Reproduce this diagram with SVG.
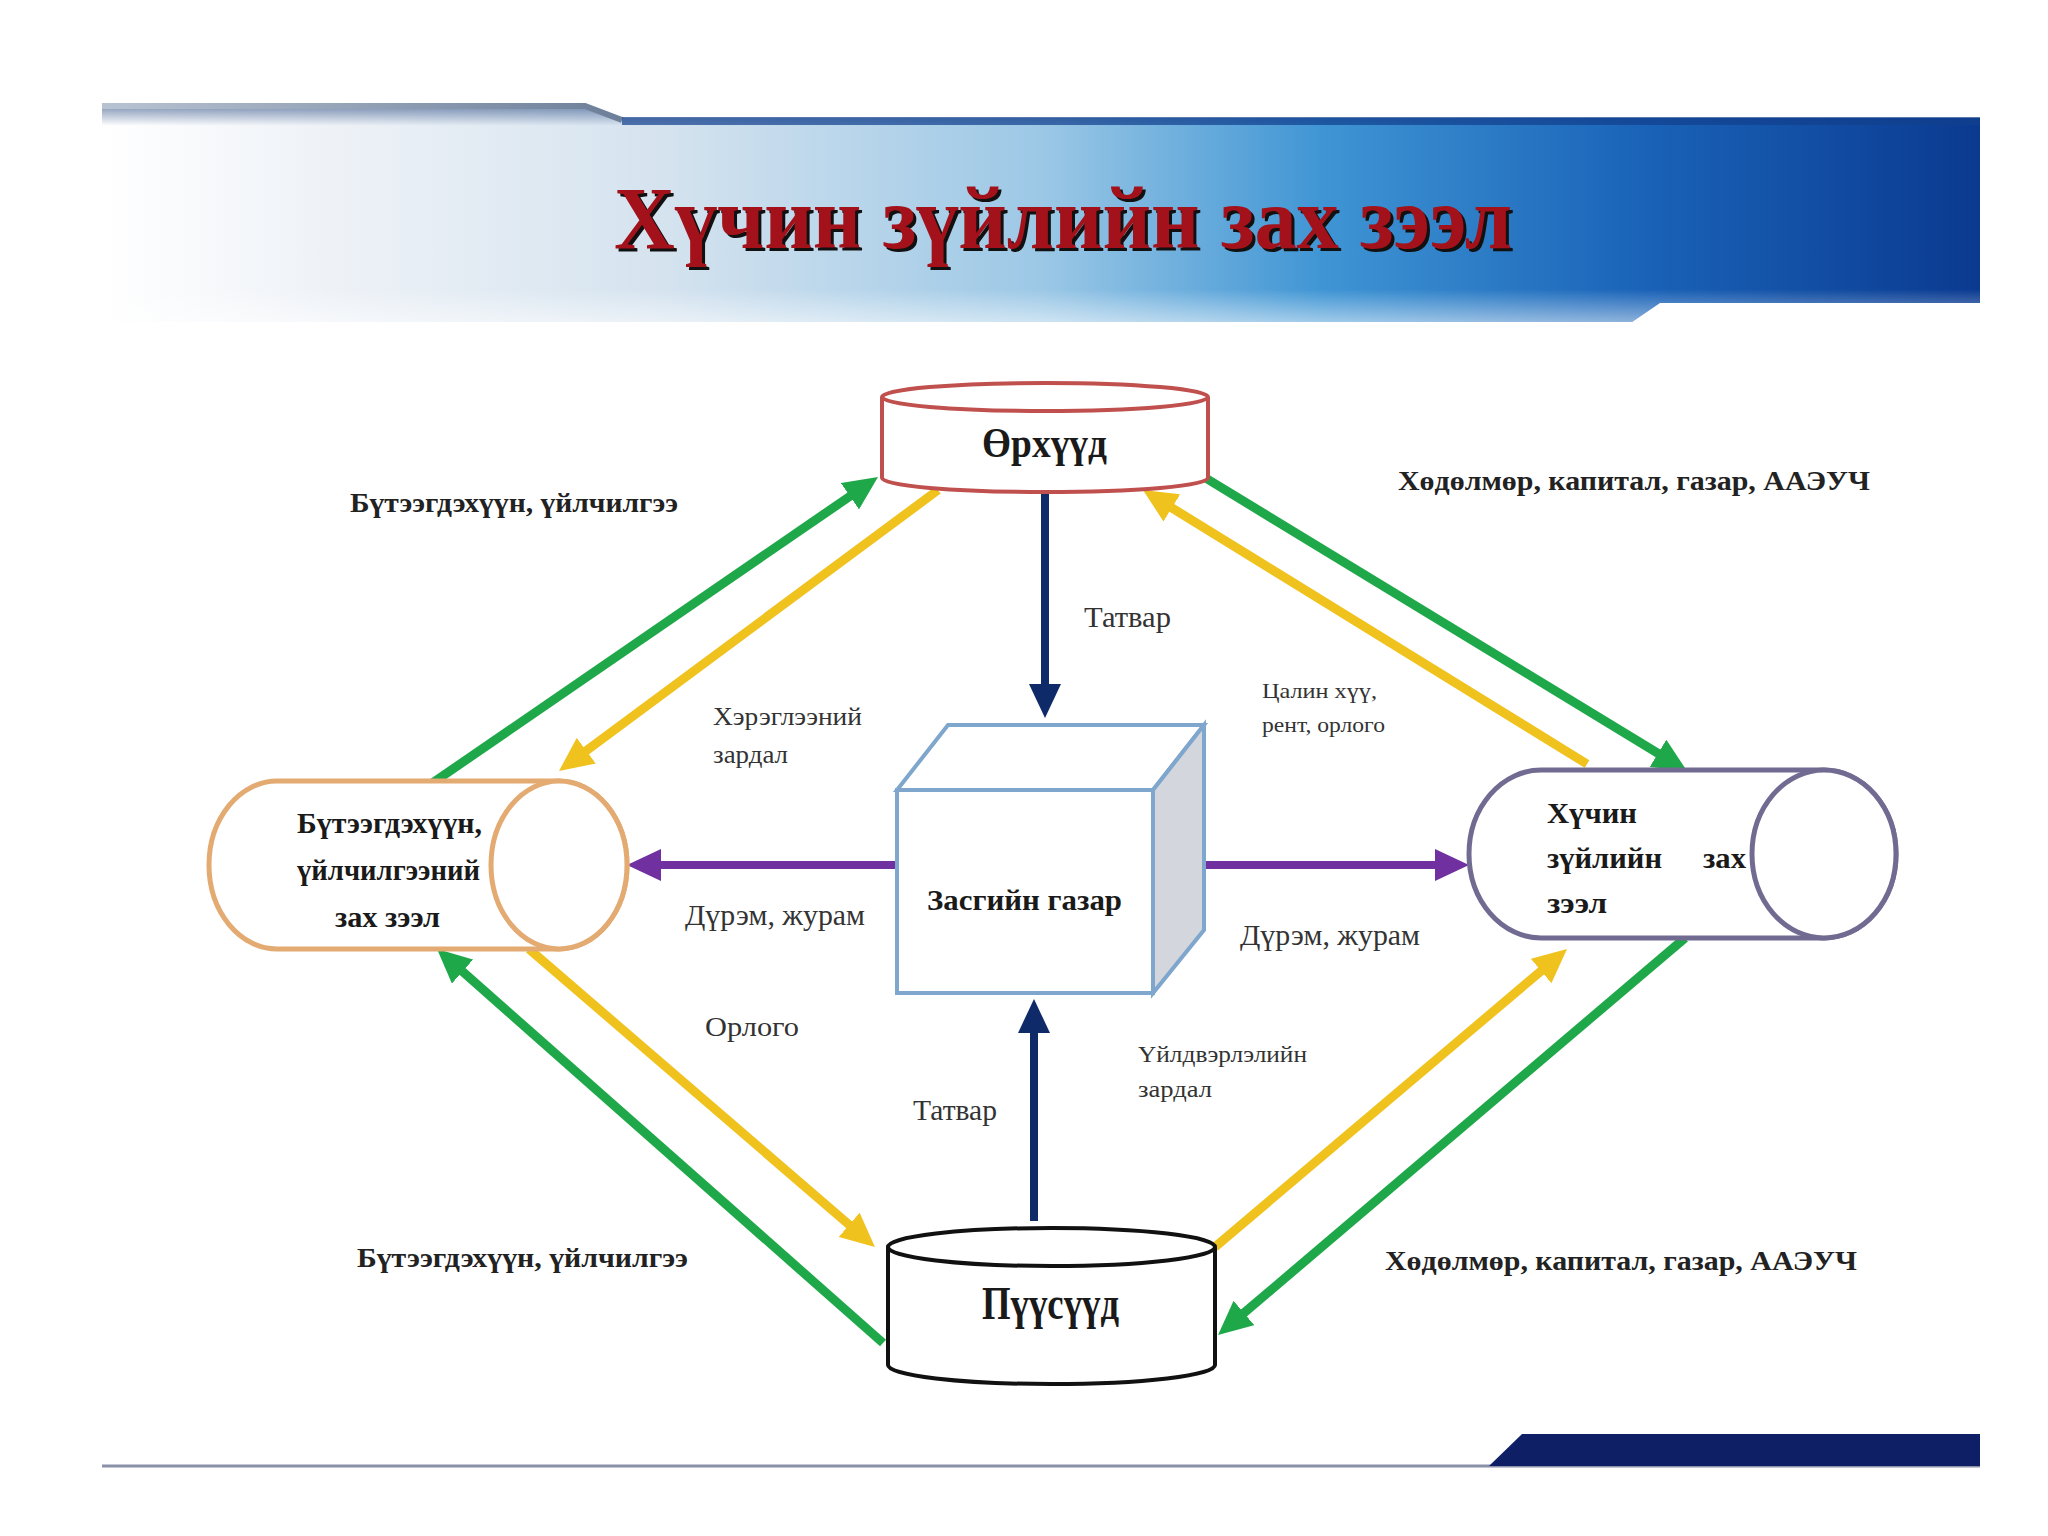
<svg xmlns="http://www.w3.org/2000/svg" width="2048" height="1536" viewBox="0 0 2048 1536">
<defs>
<linearGradient id="bannerG" x1="0" y1="0" x2="1" y2="0">
<stop offset="0" stop-color="#ffffff"/>
<stop offset="0.12" stop-color="#eef2f7"/>
<stop offset="0.3" stop-color="#d5e3ef"/>
<stop offset="0.5" stop-color="#9cc8e6"/>
<stop offset="0.65" stop-color="#3f95d4"/>
<stop offset="0.82" stop-color="#1a63b8"/>
<stop offset="1" stop-color="#0a3a90"/>
</linearGradient>
<linearGradient id="bannerV" x1="0" y1="0" x2="0" y2="1">
<stop offset="0" stop-color="#0a2f6e" stop-opacity="0.55"/>
<stop offset="0.1" stop-color="#0a2f6e" stop-opacity="0"/>
<stop offset="0.85" stop-color="#ffffff" stop-opacity="0"/>
<stop offset="1" stop-color="#ffffff" stop-opacity="0.5"/>
</linearGradient>
<linearGradient id="topLineG" x1="0" y1="0" x2="1" y2="0">
<stop offset="0" stop-color="#b8c3d2"/>
<stop offset="1" stop-color="#6d7f99"/>
</linearGradient>
<marker id="mGreen" markerUnits="userSpaceOnUse" markerWidth="34" markerHeight="32" viewBox="0 0 34 32" refX="2" refY="16" orient="auto"><path d="M0,0 L34,16 L0,32 Z" fill="#1fa84a"/></marker>
<marker id="mYellow" markerUnits="userSpaceOnUse" markerWidth="34" markerHeight="32" viewBox="0 0 34 32" refX="2" refY="16" orient="auto"><path d="M0,0 L34,16 L0,32 Z" fill="#f0c21e"/></marker>
<marker id="mNavy" markerUnits="userSpaceOnUse" markerWidth="34" markerHeight="32" viewBox="0 0 34 32" refX="2" refY="16" orient="auto"><path d="M0,0 L34,16 L0,32 Z" fill="#0f2a68"/></marker>
<marker id="mPurple" markerUnits="userSpaceOnUse" markerWidth="34" markerHeight="32" viewBox="0 0 34 32" refX="2" refY="16" orient="auto"><path d="M0,0 L34,16 L0,32 Z" fill="#7030a0"/></marker>
</defs>
<style>
.green{stroke:#1fa84a;stroke-width:9;fill:none;marker-end:url(#mGreen)}
.yellow{stroke:#f0c21e;stroke-width:9;fill:none;marker-end:url(#mYellow)}
.navy{stroke:#0f2a68;stroke-width:8;fill:none;marker-end:url(#mNavy)}
.purple{stroke:#7030a0;stroke-width:8;fill:none;marker-end:url(#mPurple)}
.lbl{font-family:"Liberation Serif","Noto Serif",serif;fill:#333}
.blbl{font-family:"Liberation Serif","Noto Serif",serif;font-weight:bold;fill:#222}
.ntext{font-family:"Liberation Serif","Noto Serif",serif;font-weight:bold;fill:#1a1a1a}
</style>
<rect width="2048" height="1536" fill="#ffffff"/>

<g id="header">
<path d="M102,104 L585,104 L622,118 L1980,118 L1980,303 L1660,303 L1632,322 L102,322 Z" fill="url(#bannerG)"/>
<path d="M102,104 L585,104 L622,118 L1980,118 L1980,303 L1660,303 L1632,322 L102,322 Z" fill="url(#bannerV)"/>
<path d="M102,106 L585,106 L622,120" stroke="url(#topLineG)" stroke-width="6" fill="none"/>
<path d="M622,121 L1980,121" stroke="#12408e" stroke-width="8" fill="none" opacity="0.7"/>
<text x="1066" y="251" text-anchor="middle" font-family="Liberation Serif, serif" font-weight="bold" font-size="88" textLength="898" lengthAdjust="spacingAndGlyphs" fill="#111">Хүчин зүйлийн зах зээл</text>
<text x="1063" y="248" text-anchor="middle" font-family="Liberation Serif, serif" font-weight="bold" font-size="88" textLength="898" lengthAdjust="spacingAndGlyphs" fill="#a3121a">Хүчин зүйлийн зах зээл</text>
</g>

<g id="footer">
<line x1="102" y1="1466" x2="1980" y2="1466" stroke="#8a90a8" stroke-width="3"/>
<path d="M1522,1434 L1980,1434 L1980,1466 L1489,1466 Z" fill="#0e1f66"/>
</g>

<g id="connectors">
<line class="green" x1="431" y1="784" x2="851.6" y2="495.1"/>
<line class="green" x1="1204" y1="477" x2="1659.7" y2="754.4"/>
<line class="green" x1="1685" y1="938" x2="1242.4" y2="1314.3"/>
<line class="green" x1="883" y1="1343" x2="461" y2="970.2"/>
<line class="yellow" x1="938" y1="490" x2="584.7" y2="751.9"/>
<line class="yellow" x1="1587" y1="764" x2="1170.2" y2="506.8"/>
<line class="yellow" x1="529" y1="949" x2="850.7" y2="1226.1"/>
<line class="yellow" x1="1215" y1="1247" x2="1542.6" y2="969.7"/>
<line class="navy" x1="1045" y1="490" x2="1045" y2="686"/>
<line class="navy" x1="1034" y1="1221" x2="1034" y2="1031"/>
<line class="purple" x1="897" y1="865" x2="659" y2="865"/>
<line class="purple" x1="1204" y1="865" x2="1437" y2="865"/>
</g>

<g id="labels">
<text class="blbl" x="350" y="512" font-size="27" textLength="328" lengthAdjust="spacingAndGlyphs">Бүтээгдэхүүн, үйлчилгээ</text>
<text class="blbl" x="1398" y="490" font-size="27" textLength="472" lengthAdjust="spacingAndGlyphs">Хөдөлмөр, капитал, газар, ААЭУЧ</text>
<text class="lbl" x="1084" y="627" font-size="30" textLength="87" lengthAdjust="spacingAndGlyphs">Татвар</text>
<text class="lbl" x="713" y="725" font-size="25" textLength="149" lengthAdjust="spacingAndGlyphs">Хэрэглээний</text>
<text class="lbl" x="713" y="763" font-size="25" textLength="75" lengthAdjust="spacingAndGlyphs">зардал</text>
<text class="lbl" x="1262" y="698" font-size="21" textLength="115" lengthAdjust="spacingAndGlyphs">Цалин хүү,</text>
<text class="lbl" x="1262" y="732" font-size="21" textLength="123" lengthAdjust="spacingAndGlyphs">рент, орлого</text>
<text class="lbl" x="685" y="925" font-size="30" textLength="180" lengthAdjust="spacingAndGlyphs">Дүрэм, журам</text>
<text class="lbl" x="1240" y="945" font-size="30" textLength="180" lengthAdjust="spacingAndGlyphs">Дүрэм, журам</text>
<text class="lbl" x="705" y="1036" font-size="28" textLength="94" lengthAdjust="spacingAndGlyphs">Орлого</text>
<text class="lbl" x="1138" y="1062" font-size="24" textLength="169" lengthAdjust="spacingAndGlyphs">Үйлдвэрлэлийн</text>
<text class="lbl" x="1138" y="1097" font-size="24" textLength="74" lengthAdjust="spacingAndGlyphs">зардал</text>
<text class="lbl" x="913" y="1120" font-size="30" textLength="84" lengthAdjust="spacingAndGlyphs">Татвар</text>
<text class="blbl" x="357" y="1267" font-size="27" textLength="331" lengthAdjust="spacingAndGlyphs">Бүтээгдэхүүн, үйлчилгээ</text>
<text class="blbl" x="1385" y="1270" font-size="27" textLength="472" lengthAdjust="spacingAndGlyphs">Хөдөлмөр, капитал, газар, ААЭУЧ</text>
</g>

<g id="node-households">
<path d="M882,397 L882,478 A163,14 0 0,0 1208,478 L1208,397" fill="#ffffff" stroke="#c0504d" stroke-width="4"/>
<ellipse cx="1045" cy="397" rx="163" ry="14" fill="#ffffff" stroke="#c0504d" stroke-width="4"/>
<text class="ntext" x="982" y="457" font-size="42" font-weight="normal" textLength="125" lengthAdjust="spacingAndGlyphs">Өрхүүд</text>
</g>

<g id="node-firms">
<path d="M888,1247 L888,1365 A163.5,19 0 0,0 1215,1365 L1215,1247" fill="#ffffff" stroke="#111" stroke-width="4"/>
<ellipse cx="1051.5" cy="1247" rx="163.5" ry="19" fill="#ffffff" stroke="#111" stroke-width="4"/>
<text class="ntext" x="982" y="1319" font-size="46" font-weight="normal" textLength="137" lengthAdjust="spacingAndGlyphs">Пүүсүүд</text>
</g>

<g id="node-product-market">
<path d="M277,781 L559,781 A68,84 0 0,1 559,949 L277,949 A68,84 0 0,1 277,781 Z" fill="#ffffff" stroke="#e3aa72" stroke-width="5"/>
<ellipse cx="559" cy="865" rx="68" ry="84" fill="#ffffff" stroke="#e3aa72" stroke-width="5"/>
<text class="ntext" x="297" y="833" font-size="30" textLength="185" lengthAdjust="spacingAndGlyphs">Бүтээгдэхүүн,</text>
<text class="ntext" x="297" y="880" font-size="30" textLength="183" lengthAdjust="spacingAndGlyphs">үйлчилгээний</text>
<text class="ntext" x="335" y="927" font-size="30" textLength="105" lengthAdjust="spacingAndGlyphs">зах зээл</text>
</g>

<g id="node-factor-market">
<path d="M1541,770 L1824,770 A72,84 0 0,1 1824,938 L1541,938 A72,84 0 0,1 1541,770 Z" fill="#ffffff" stroke="#716b92" stroke-width="5"/>
<ellipse cx="1824" cy="854" rx="72" ry="84" fill="#ffffff" stroke="#716b92" stroke-width="5"/>
<text class="ntext" x="1547" y="823" font-size="30" textLength="90" lengthAdjust="spacingAndGlyphs">Хүчин</text>
<text class="ntext" x="1547" y="868" font-size="30" textLength="115" lengthAdjust="spacingAndGlyphs">зүйлийн</text>
<text class="ntext" x="1703" y="868" font-size="30" textLength="43" lengthAdjust="spacingAndGlyphs">зах</text>
<text class="ntext" x="1547" y="913" font-size="30" textLength="60" lengthAdjust="spacingAndGlyphs">зээл</text>
</g>

<g id="node-government">
<path d="M897,790 L948,725 L1204,725 L1153,790 Z" fill="#ffffff" stroke="#7fa6cc" stroke-width="4"/>
<path d="M1153,790 L1204,725 L1204,930 L1153,993 Z" fill="#d3d6dc" stroke="#7fa6cc" stroke-width="4"/>
<rect x="897" y="790" width="256" height="203" fill="#ffffff" stroke="#7fa6cc" stroke-width="4"/>
<text class="ntext" x="927" y="910" font-size="30" textLength="195" lengthAdjust="spacingAndGlyphs">Засгийн газар</text>
</g>
</svg>
